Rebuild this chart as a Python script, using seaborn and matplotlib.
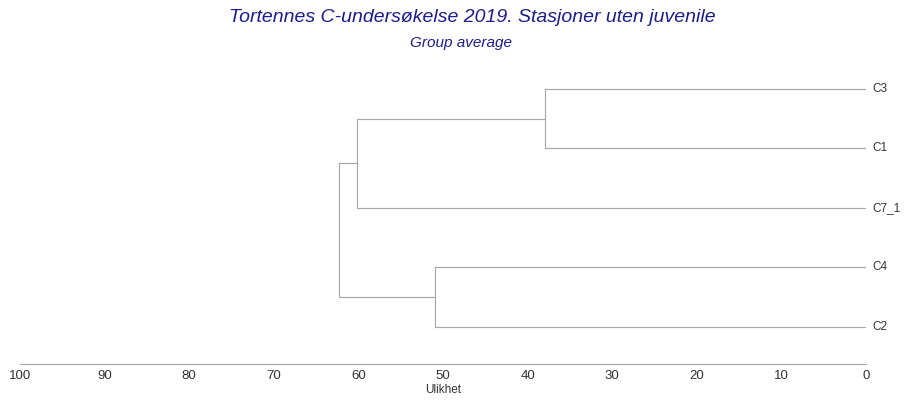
import numpy as np
import pandas as pd
import seaborn as sns
from matplotlib import pyplot as plt

# stations (top to bottom) and group-average merge levels (dissimilarity)
leaves = ["C3", "C1", "C7_1", "C4", "C2"]
# merges: (left node, right node, height); nodes >= 5 are earlier merges
merges = [
    (0, 1, 38.0),    # C3 + C1
    (3, 4, 51.0),    # C4 + C2
    (5, 2, 60.2),    # (C3,C1) + C7_1
    (7, 6, 62.3),    # all
]
xticks = [100, 90, 80, 70, 60, 50, 40, 30, 20, 10, 0]

sns.set_style("white")
plt.rcParams['font.family'] = ['Liberation Sans', 'DejaVu Sans']

# build line segments for the dendrogram
pos = {i: (0.0, float(i)) for i in range(len(leaves))}  # node -> (height, y)
rows = []
seg = 0
for k, (a, b, h) in enumerate(merges):
    ha, ya = pos[a]
    hb, yb = pos[b]
    for x0, y0, x1, y1 in [(ha, ya, h, ya), (h, ya, h, yb), (hb, yb, h, yb)]:
        rows.append({"seg": seg, "x": x0, "y": y0})
        rows.append({"seg": seg, "x": x1, "y": y1})
        seg += 1
    pos[len(leaves) + k] = (h, (ya + yb) / 2)
df = pd.DataFrame(rows)

fig = plt.figure(figsize=(9.06, 4.01), dpi=100)
ax = fig.add_axes([20 / 906, 37 / 401, 846 / 906, 304 / 401])

sns.lineplot(data=df, x="x", y="y", units="seg", estimator=None, sort=False,
             color="#a8a8a8", linewidth=0.85, ax=ax)

ax.set_xlim(100, 0)
ax.set_ylim(4.63, -0.49)
ax.set_xticks(xticks)
ax.set_xticklabels([str(t) for t in xticks], fontsize=9.5, color="#333333")
ax.set_yticks([])
ax.set_ylabel("")
ax.set_xlabel("Ulikhet", fontsize=8.5, color="#333333", labelpad=1)
ax.tick_params(axis="x", direction="inout", length=5, width=0.7,
               color="#999999", pad=2)
for s in ["top", "right", "left"]:
    ax.spines[s].set_visible(False)
ax.spines["bottom"].set_color("#a8a8a8")
ax.spines["bottom"].set_linewidth(0.85)

for i, name in enumerate(leaves):
    ax.text(-0.8, i, name, fontsize=8.5, color="#333333", va="center", ha="left")

fig.text(472 / 906, 1 - 18 / 401, "Tortennes C-undersøkelse 2019. Stasjoner uten juvenile",
         ha="center", va="center", fontsize=14, style="italic", color="#1c1c8a")
fig.text(461 / 906, 1 - 43 / 401, "Group average",
         ha="center", va="center", fontsize=11, style="italic", color="#1c1c8a")

plt.savefig("out.png", dpi=100)
